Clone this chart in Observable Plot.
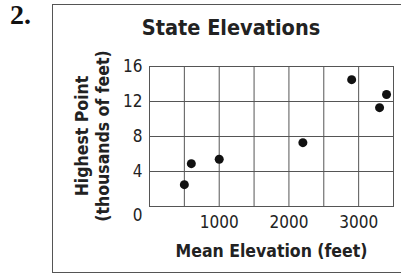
<!DOCTYPE html>
<html>
<head>
<meta charset="utf-8">
<script src="https://cdn.jsdelivr.net/npm/d3@7"></script>
<script src="https://cdn.jsdelivr.net/npm/@observablehq/plot@0.6"></script>
<style>
  html, body { margin: 0; padding: 0; background: #fff; }
  #wrap { position: relative; width: 401px; height: 275px; overflow: hidden; }
  #num { position: absolute; left: 10px; top: 1px; font: bold 28px "Liberation Serif", "Times New Roman", serif; color: #111; line-height: 28px; }
  #box { position: absolute; left: 52px; top: 4px; width: 400px; height: 269px; border: 1.5px solid #555; border-right: none; box-sizing: border-box; }
  #title { position: absolute; left: 52px; width: 358px; top: 16px; text-align: center; font: bold 21.5px "DejaVu Sans Condensed", "DejaVu Sans", sans-serif; color: #222; line-height: 24px; }
  .ylab { position: absolute; left: 0; top: 0; width: 200px; text-align: center; font: bold 17.5px "DejaVu Sans Condensed", sans-serif; color: #222; line-height: 20px; white-space: nowrap; }
  #chart { position: absolute; left: 0; top: 0; }
  #chart svg { font-family: "DejaVu Sans Condensed", sans-serif; }
  #chart g[aria-label="x-axis tick label"], #chart g[aria-label="y-axis tick label"], #chart g[aria-label="text"] { font-size: 17px; fill: #222; }
  #chart g[aria-label="x-axis label"] { font-family: "DejaVu Sans Condensed", sans-serif; font-weight: bold; font-size: 17.5px; fill: #222; }
</style>
</head>
<body>
<div id="wrap">
  <div id="box"></div>
  <div id="num">2.</div>
  <div id="title"></div>
  <div id="ylab1" class="ylab"></div>
  <div id="ylab2" class="ylab"></div>
  <div id="chart"></div>
</div>
<script>
const title = "State Elevations";
const xLabel = "Mean Elevation (feet)";
const yLabelLines = ["Highest Point", "(thousands of feet)"];
const meanElevation = [500, 600, 1000, 2200, 2900, 3300, 3400];
const highestPoint = [2.5, 4.9, 5.4, 7.3, 14.5, 11.3, 12.8];
const xTicks = [1000, 2000, 3000];
const yTicks = [4, 8, 12, 16];
const xGrid = [0, 500, 1000, 1500, 2000, 2500, 3000, 3500];
const yGrid = [0, 4, 8, 12, 16];
const originLabel = ["0"];

document.getElementById("title").textContent = title;

const data = meanElevation.map((x, i) => ({x, y: highestPoint[i]}));

const marginLeft = 149, marginTop = 66, marginBottom = 69, H = 275;
const chart = Plot.plot({
  width: 401,
  height: H,
  marginLeft,
  marginRight: 8,
  marginTop,
  marginBottom,
  x: {domain: [0, 3500]},
  y: {domain: [0, 16]},
  style: {background: "transparent", overflow: "visible"},
  marks: [
    Plot.gridX(xGrid, {stroke: "#555", strokeOpacity: 1, strokeWidth: 1}),
    Plot.gridY(yGrid, {stroke: "#555", strokeOpacity: 1, strokeWidth: 1}),
    Plot.frame({stroke: "#555", strokeWidth: 1}),
    Plot.axisX(xTicks, {tickSize: 0, tickPadding: 9, tickFormat: d => String(d), label: xLabel, labelAnchor: "center", labelArrow: "none", labelOffset: 50}),
    Plot.axisY(yTicks, {tickSize: 0, tickPadding: 7, tickFormat: d => String(d), label: null}),
    Plot.text(originLabel, {x: () => 0, y: () => 0, text: d => d, textAnchor: "end", dx: -7, dy: 9}),
    Plot.dot(data, {x: "x", y: "y", r: 4.5, fill: "#111", stroke: "none"})
  ]
});
document.getElementById("chart").appendChild(chart);

// rotated two-line y-axis title, centred on the plot frame
const cy = (marginTop + (H - marginBottom)) / 2;
const centersX = [82, 103];
yLabelLines.forEach((t, i) => {
  const el = document.getElementById("ylab" + (i + 1));
  el.textContent = t;
  el.style.transform = `translate(${centersX[i] - 100}px, ${cy - 10}px) rotate(-90deg)`;
});
</script>
</body>
</html>
